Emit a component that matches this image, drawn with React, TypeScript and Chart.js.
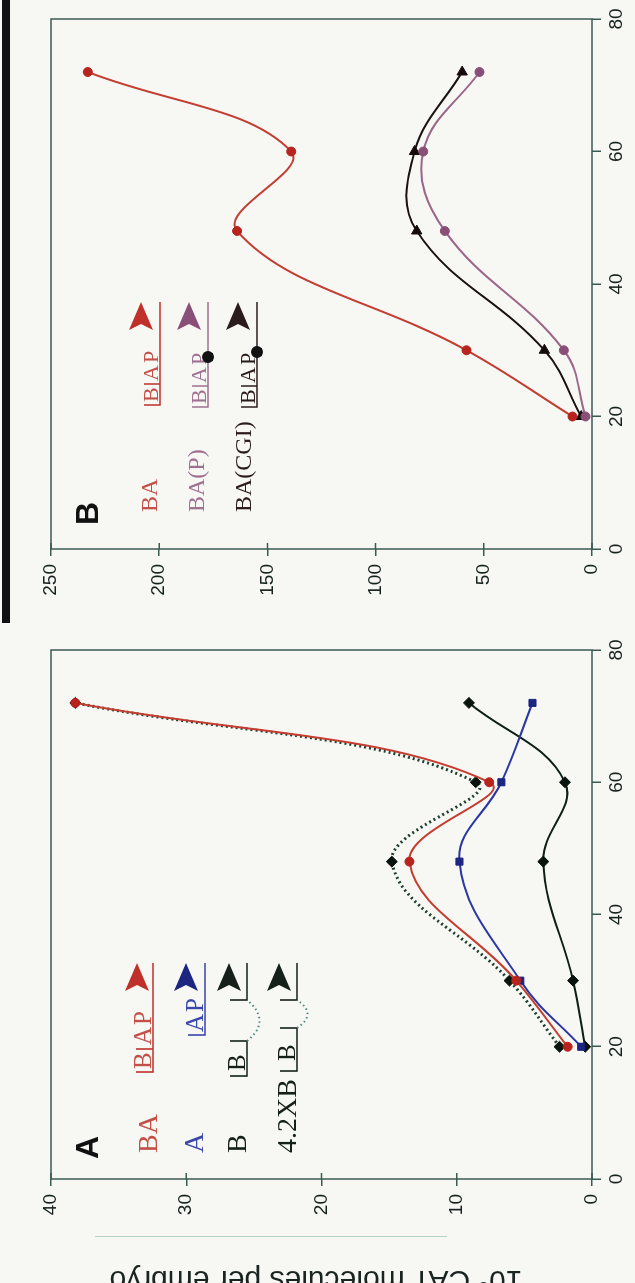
import React, { useEffect, useRef } from "react";
import { Chart, registerables } from "chart.js";
Chart.register(...registerables);

// Time after fertilization (h)
const hours = [20, 30, 48, 60, 72];
const timeTicks = [0, 20, 40, 60, 80];
const panelATicks = [0, 10, 20, 30, 40];
const panelBTicks = [0, 50, 100, 150, 200, 250];

// Panel A (10^6 CAT molecules per embryo)
const aBA = [1.8, 5.6, 13.5, 7.6, 38.2];
const aA = [0.8, 5.3, 9.8, 6.7, 4.4];
const aB = [0.5, 1.4, 3.6, 2.0, 9.1];
const a42XB = [2.4, 6.1, 14.8, 8.6, 38.2];

// Panel B
const bBA = [9, 58, 164, 139, 233];
const bBAP = [3, 13, 68, 78, 52];
const bBACGI = [5, 22, 81, 82, 60];

const FRAME = "#3a5a52";
const TICK = "#16221e";

const framePlugin = {
  id: "frame",
  beforeDatasetsDraw(chart: any) {
    const { ctx, chartArea: a, scales } = chart;
    ctx.save();
    ctx.strokeStyle = FRAME;
    ctx.lineWidth = 1.5;
    ctx.strokeRect(a.left, a.top, a.right - a.left, a.bottom - a.top);
    const ys = scales.y;
    ctx.beginPath();
    ys.ticks.forEach((t: any) => {
      const p = ys.getPixelForValue(t.value);
      ctx.moveTo(a.left, p);
      ctx.lineTo(a.left + 6, p);
    });
    ctx.stroke();
    ctx.restore();
  },
};

function pts(vals: number[]) {
  return hours.map((h, i) => ({ x: h, y: vals[i] }));
}

function makeConfig(datasets: any[], yTicks: number[], yMax: number, yWidth: number, padRight: number): any {
  const tickFont = { family: "'Liberation Sans', Arial, sans-serif", size: 19 };
  return {
    type: "line",
    data: { datasets },
    options: {
      animation: false,
      responsive: false,
      maintainAspectRatio: false,
      layout: { padding: { top: 51, right: padRight, bottom: 0, left: 0 } },
      plugins: { legend: { display: false }, tooltip: { enabled: false }, title: { display: false } },
      elements: { line: { tension: 0.4 } },
      scales: {
        x: {
          type: "linear",
          min: 0,
          max: 80,
          afterBuildTicks: (s: any) => {
            s.ticks = timeTicks.map((v) => ({ value: v }));
          },
          afterFit: (s: any) => {
            s.height = 43;
          },
          border: { display: false },
          grid: { display: true, drawOnChartArea: false, drawTicks: true, tickLength: 9, color: FRAME, lineWidth: 1.5 },
          ticks: { padding: 4, color: TICK, font: tickFont, maxRotation: 0, autoSkip: false },
        },
        y: {
          type: "linear",
          min: 0,
          max: yMax,
          afterBuildTicks: (s: any) => {
            s.ticks = yTicks.map((v) => ({ value: v }));
          },
          afterFit: (s: any) => {
            s.width = yWidth;
          },
          border: { display: false },
          grid: { display: true, drawOnChartArea: false, drawTicks: true, tickLength: 7, color: FRAME, lineWidth: 1.5 },
          ticks: { padding: 8, color: TICK, font: tickFont, autoSkip: false },
        },
      },
    },
    plugins: [framePlugin],
  };
}

function ds(label: string, vals: number[], line: string, point: string, style: string, radius: number, extra: any = {}) {
  return {
    label,
    data: pts(vals),
    borderColor: line,
    backgroundColor: point,
    pointBackgroundColor: point,
    pointBorderColor: point,
    pointStyle: style,
    pointRadius: radius,
    pointBorderWidth: 1,
    borderWidth: 2,
    fill: false,
    clip: false,
    ...extra,
  };
}

function arrow(tipX: number, midY: number) {
  return `${tipX},${midY} ${tipX - 28},${midY - 12} ${tipX - 22},${midY} ${tipX - 28},${midY + 12}`;
}

export default function App() {
  const refA = useRef<HTMLCanvasElement>(null);
  const refB = useRef<HTMLCanvasElement>(null);

  useEffect(() => {
    const chartA = new Chart(
      refA.current as HTMLCanvasElement,
      makeConfig(
        [
          ds("BA", aBA, "#c43d31", "#b8231d", "circle", 4.5),
          ds("A", aA, "#2a36a3", "#1c2580", "rect", 5),
          ds("B", aB, "#0d1f16", "#0a140e", "rectRot", 5.5),
          ds("4.2XB", a42XB, "#1f4030", "#0a140e", "rectRot", 5.5, { borderDash: [2, 3], borderWidth: 3 }),
        ],
        panelATicks,
        40,
        104,
        47
      )
    );
    const chartB = new Chart(
      refB.current as HTMLCanvasElement,
      makeConfig(
        [
          ds("BA", bBA, "#c43d31", "#b8231d", "circle", 4.5),
          ds("BA(P)", bBAP, "#9c6688", "#8a4f78", "circle", 4.5),
          ds("BA(CGI)", bBACGI, "#1a1212", "#140c0c", "triangle", 6, { pointRotation: 90 }),
        ],
        panelBTicks,
        250,
        54,
        19
      )
    );
    return () => {
      chartA.destroy();
      chartB.destroy();
    };
  }, []);

  const serif = "'Liberation Serif', 'Times New Roman', serif";
  const sans = "'Liberation Sans', Arial, sans-serif";
  const RED_T = "#c25048";
  const RED_L = "#c0302a";
  const BLUE_T = "#3a46a8";
  const BLK_T = "#142019";
  const MAUVE_T = "#a07090";
  const CGI_T = "#2a1c1c";
  const DOT_C = "#4a8a80";

  return (
    <div style={{ position: "absolute", left: 0, top: 0, width: 635, height: 1283, overflow: "hidden", background: "#f7f8f4" }}>
      <div
        style={{
          position: "absolute",
          left: 0,
          top: 0,
          width: 1283,
          height: 635,
          transformOrigin: "0 0",
          transform: "translate(0px, 1283px) rotate(-90deg)",
        }}
      >
        {/* scan artifacts */}
        <div style={{ position: "absolute", left: 660, top: 2, width: 623, height: 8, background: "#111" }} />
        <div style={{ position: "absolute", left: 46, top: 95, width: 1, height: 352, background: "#b6d2ca" }} />

        <canvas ref={refA} width={680} height={635} style={{ position: "absolute", left: 0, top: 0 }} />
        <canvas ref={refB} width={603} height={635} style={{ position: "absolute", left: 680, top: 0 }} />

        <svg width={1283} height={635} style={{ position: "absolute", left: 0, top: 0 }}>
          {/* y-axis title (panel A) */}
          <text transform="translate(12,316) rotate(-90)" textAnchor="middle" fontFamily={sans} fontSize={30} fill="#1a2420">
            10<tspan dy={-11} fontSize={19}>6</tspan>
            <tspan dy={11}> CAT molecules per embryo</tspan>
          </text>

          {/* Panel A legend */}
          <text x={124} y={98} fontFamily={sans} fontWeight="bold" fontSize={32} fill="#111">A</text>
          <g fontFamily={serif} fontSize={28}>
            <text x={130} y={157} fill={RED_T}>BA</text>
            <text x={130} y={203} fill={BLUE_T}>A</text>
            <text x={130} y={246} fill={BLK_T}>B</text>
            <text x={130} y={296} fill={BLK_T}>4.2XB</text>
          </g>

          {/* BA construct */}
          <path d="M211,136 V153 H320 M234,136 V153" stroke={RED_L} strokeWidth={1.6} fill="none" />
          <text x={214} y={151} fontFamily={serif} fontSize={25} fill={RED_T}>B</text>
          <text x={238} y={151} fontFamily={serif} fontSize={25} letterSpacing={2} fill={RED_T}>AP</text>
          <polygon points={arrow(320, 137)} fill={RED_L} />

          {/* A construct */}
          <path d="M248,188 V205 H320" stroke={BLUE_T} strokeWidth={1.6} fill="none" />
          <text x={251} y={203} fontFamily={serif} fontSize={25} letterSpacing={2} fill={BLUE_T}>AP</text>
          <polygon points={arrow(320, 186)} fill="#1c2580" />

          {/* B construct */}
          <path d="M207,230 V247 H242 V230 M283,230 V247 H320" stroke={BLK_T} strokeWidth={1.6} fill="none" />
          <text x={212} y={245} fontFamily={serif} fontSize={25} fill={BLK_T}>B</text>
          <path d="M242,247 Q262,272 283,247" stroke={DOT_C} strokeWidth={2} strokeDasharray="1.5 3" fill="none" />
          <polygon points={arrow(320, 229)} fill={BLK_T} />

          {/* 4.2XB construct */}
          <path d="M212,280 V297 H255 V280 M283,280 V297 H320" stroke={BLK_T} strokeWidth={1.6} fill="none" />
          <text x={222} y={295} fontFamily={serif} fontSize={25} fill={BLK_T}>B</text>
          <path d="M255,297 Q269,318 283,297" stroke={DOT_C} strokeWidth={2} strokeDasharray="1.5 3" fill="none" />
          <polygon points={arrow(320, 279)} fill={BLK_T} />

          {/* Panel B legend */}
          <text x={758} y={98} fontFamily={sans} fontWeight="bold" fontSize={32} fill="#111">B</text>
          <g fontFamily={serif} fontSize={24}>
            <text x={771} y={157} fill={RED_T}>BA</text>
            <text x={771} y={204} fill={MAUVE_T}>BA(P)</text>
            <text x={771} y={251} fill={CGI_T}>BA(CGI)</text>
          </g>

          {/* BA */}
          <path d="M878,144 V160 H981 M899,144 V160" stroke={RED_L} strokeWidth={1.5} fill="none" />
          <text x={881} y={158} fontFamily={serif} fontSize={22} fill={RED_T}>B</text>
          <text x={902} y={158} fontFamily={serif} fontSize={22} letterSpacing={2} fill={RED_T}>AP</text>
          <polygon points={arrow(981, 141)} fill={RED_L} />

          {/* BA(P) */}
          <path d="M876,192 V208 H981 M897,192 V208" stroke={MAUVE_T} strokeWidth={1.5} fill="none" />
          <text x={879} y={206} fontFamily={serif} fontSize={22} fill={MAUVE_T}>B</text>
          <text x={900} y={206} fontFamily={serif} fontSize={22} letterSpacing={2} fill={MAUVE_T}>AP</text>
          <polygon points={arrow(981, 189)} fill="#8a4f78" />
          <circle cx={926} cy={208} r={6} fill="#111" />

          {/* BA(CGI) */}
          <path d="M876,241 V257 H981 M897,241 V257" stroke={CGI_T} strokeWidth={1.5} fill="none" />
          <text x={879} y={255} fontFamily={serif} fontSize={22} fill={CGI_T}>B</text>
          <text x={900} y={255} fontFamily={serif} fontSize={22} letterSpacing={2} fill={CGI_T}>AP</text>
          <polygon points={arrow(981, 238)} fill={CGI_T} />
          <circle cx={931} cy={257} r={6} fill="#111" />
        </svg>
      </div>
    </div>
  );
}
